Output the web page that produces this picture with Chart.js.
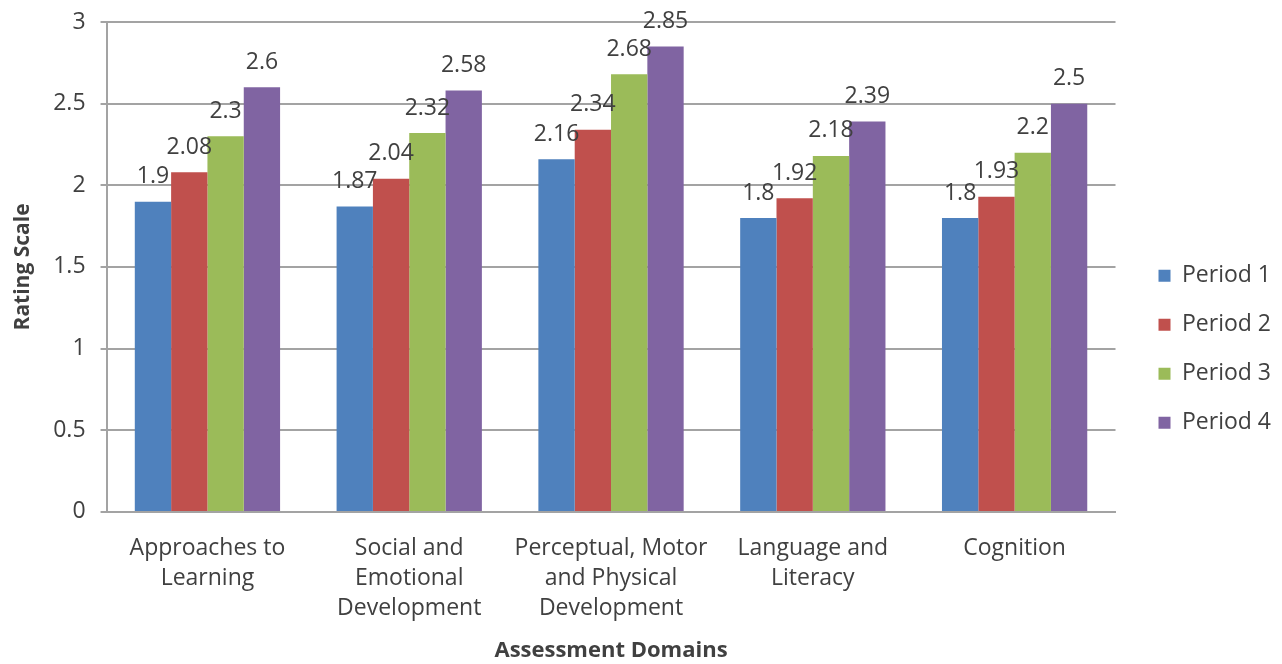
<!DOCTYPE html>
<html>
<head>
<meta charset="utf-8">
<script src="https://cdn.jsdelivr.net/npm/chart.js@4/dist/chart.umd.min.js"></script>
<style>
  html, body { margin: 0; padding: 0; background: #ffffff; }
  #wrap { width: 1282px; height: 664px; }
</style>
</head>
<body>
<div id="wrap"><canvas id="c" width="1282" height="664"></canvas></div>
<script>
// Assessment domains (category axis), split into display lines
const domains = [
  ["Approaches to", "Learning"],
  ["Social and", "Emotional", "Development"],
  ["Perceptual, Motor", "and Physical", "Development"],
  ["Language and", "Literacy"],
  ["Cognition"]
];

// Mean rating per domain for each period
const period1 = [1.9, 1.87, 2.16, 1.8, 1.8];
const period2 = [2.08, 2.04, 2.34, 1.92, 1.93];
const period3 = [2.3, 2.32, 2.68, 2.18, 2.2];
const period4 = [2.6, 2.58, 2.85, 2.39, 2.5];

const periodNames = ["Period 1", "Period 2", "Period 3", "Period 4"];
const yTicks = [0, 0.5, 1, 1.5, 2, 2.5, 3];

const colors = ["#4F81BD", "#C0504D", "#9BBB59", "#8064A2"];
const FONT = "'Open Sans', sans-serif";
const TEXT = "#404040";
const GRID = "#a3a3a3";

// Writes each bar's value just above it
const valueLabels = {
  id: "valueLabels",
  afterDatasetsDraw(chart) {
    const ctx = chart.ctx;
    ctx.save();
    ctx.font = "23px " + FONT;
    ctx.fillStyle = TEXT;
    ctx.textAlign = "center";
    ctx.textBaseline = "middle";
    chart.data.datasets.forEach((ds, i) => {
      const meta = chart.getDatasetMeta(i);
      meta.data.forEach((bar, j) => {
        ctx.fillText(String(ds.data[j]), bar.x, bar.y - 25);
      });
    });
    ctx.restore();
  }
};

// Leaves a wider gap between the plot and the legend column
const LEGEND_GAP = 17;
const legendGap = {
  id: "legendGap",
  beforeLayout(chart) {
    const lg = chart.legend;
    if (lg && !lg._gapPatched) {
      const fit = lg.fit.bind(lg);
      lg.fit = function () { fit(); this.width += LEGEND_GAP; };
      lg._gapPatched = true;
    }
  },
  afterLayout(chart) {
    if (chart.legend) chart.legend.left += LEGEND_GAP;
  }
};

const seriesData = [period1, period2, period3, period4];

new Chart(document.getElementById("c"), {
  type: "bar",
  data: {
    labels: domains,
    datasets: seriesData.map((d, i) => ({
      label: periodNames[i],
      data: d,
      backgroundColor: colors[i],
      borderWidth: 0,
      categoryPercentage: 0.72,
      barPercentage: 1.0
    }))
  },
  options: {
    responsive: false,
    animation: false,
    devicePixelRatio: 1,
    layout: { padding: { left: 0, right: 1, top: 0, bottom: 0 } },
    plugins: {
      tooltip: { enabled: false },
      legend: {
        position: "right",
        align: "start",
        title: { display: true, text: " ", font: { size: 1 }, padding: { top: 0, bottom: 237 } },
        labels: {
          boxWidth: 12,
          boxHeight: 12,
          padding: 26,
          color: TEXT,
          font: { family: FONT, size: 23 }
        }
      }
    },
    scales: {
      x: {
        grid: { display: false, drawTicks: false },
        border: { display: true, color: GRID, width: 2 },
        ticks: {
          color: TEXT,
          font: { family: FONT, size: 23, lineHeight: 1.3 },
          padding: 22,
          maxRotation: 0,
          autoSkip: false
        },
        title: {
          display: true,
          text: "Assessment Domains",
          color: TEXT,
          font: { family: FONT, size: 22, weight: "bold" },
          padding: { top: -8, bottom: 0 }
        }
      },
      y: {
        min: 0,
        max: 3,
        afterBuildTicks(axis) { axis.ticks = yTicks.map(v => ({ value: v })); },
        // keep the top gridline close to the canvas edge
        afterFit(axis) { axis.paddingTop = 22; axis.paddingBottom = 8; },
        grid: { color: GRID, lineWidth: 2, tickLength: 6, drawTicks: true },
        border: { display: true, color: GRID, width: 2 },
        ticks: {
          color: TEXT,
          font: { family: FONT, size: 23 },
          padding: 15,
          callback: v => String(v)
        },
        title: {
          display: true,
          text: "Rating Scale",
          color: TEXT,
          font: { family: FONT, size: 21, weight: "bold" },
          padding: { top: 10, bottom: 3 }
        }
      }
    }
  },
  plugins: [valueLabels, legendGap]
});
</script>
</body>
</html>
